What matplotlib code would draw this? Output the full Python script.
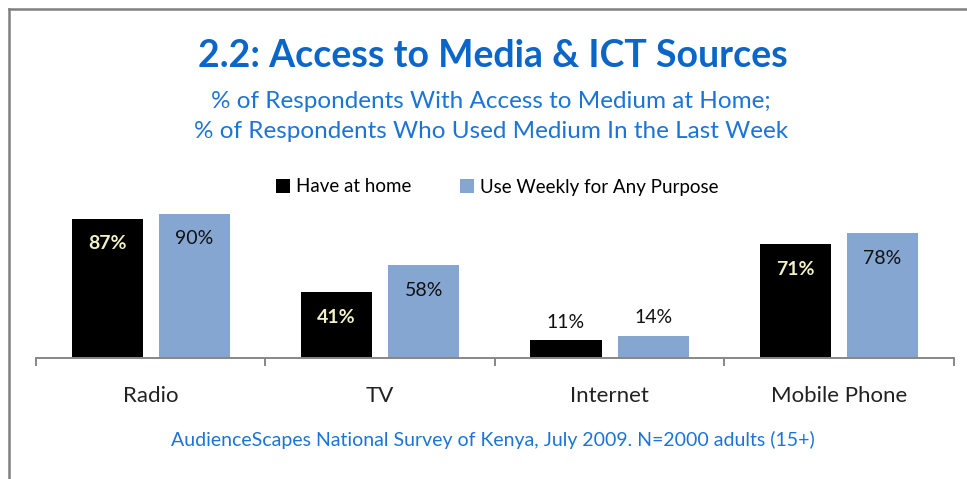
import matplotlib
matplotlib.use("Agg")
import matplotlib.pyplot as plt
from matplotlib.lines import Line2D
import numpy as np

categories = ["Radio", "TV", "Internet", "Mobile Phone"]
have_at_home = [87, 41, 11, 71]
use_weekly = [90, 58, 14, 78]
series_names = ["Have at home", "Use Weekly for Any Purpose"]

W, H = 967, 479
fig = plt.figure(figsize=(W / 100, H / 100), dpi=100)
plt.rcParams['font.family'] = ['Lato', 'DejaVu Sans']

# frame lines (top and left)
fig.add_artist(Line2D([8.5 / W, 1.0], [1 - 9 / H, 1 - 9 / H], color="#808080", lw=1.8, transform=fig.transFigure))
fig.add_artist(Line2D([9 / W, 9 / W], [0, 1 - 9 / H], color="#808080", lw=1.8, transform=fig.transFigure))

ax_left, ax_right = 36 / W, 953.7 / W
ax_bottom = (H - 358) / H
ax_top = (H - 198) / H
ax = fig.add_axes([ax_left, ax_bottom, ax_right - ax_left, ax_top - ax_bottom])

x = np.arange(len(categories))
bw = 0.31
off = 0.19
black = "#000000"
blue = "#86A6D2"
b1 = ax.bar(x - off, have_at_home, bw, color=black, label=series_names[0])
b2 = ax.bar(x + off, use_weekly, bw, color=blue, label=series_names[1])

ax.set_xlim(-0.5, len(categories) - 0.5)
ax.set_ylim(0, 100)
for s in ["top", "right", "left"]:
    ax.spines[s].set_visible(False)
ax.spines["bottom"].set_color("#878787")
ax.spines["bottom"].set_linewidth(1.4)
ax.set_yticks([])
ax.set_xticks(np.arange(len(categories) + 1) - 0.5)
ax.set_xticklabels([])
ax.tick_params(axis="x", which="major", length=6, width=1.4, color="#878787", direction="out")
ax.set_xticks(x, minor=True)
ax.set_xticklabels(categories, minor=True, fontsize=16, color="#222222")
ax.tick_params(axis="x", which="minor", length=0, pad=20)

for bars, vals, inner_color, weight in [(b1, have_at_home, "#F2F0C6", "bold"), (b2, use_weekly, "#111111", "normal")]:
    for rect, v in zip(bars, vals):
        cx = rect.get_x() + rect.get_width() / 2
        if v > 20:
            ax.annotate(f"{v}%", (cx, v), xytext=(0, -18), textcoords="offset points",
                        ha="center", va="center", fontsize=14, color=inner_color, fontweight=weight)
        else:
            ax.annotate(f"{v}%", (cx, v), xytext=(0, 13), textcoords="offset points",
                        ha="center", va="center", fontsize=14, color="#111111")

fig.text(493 / W, 1 - 56 / H, "2.2: Access to Media & ICT Sources", ha="center", va="center",
         fontsize=27, fontweight="bold", color="#0A66C8")
fig.text(491 / W, 1 - 101 / H, "% of Respondents With Access to Medium at Home;", ha="center", va="center",
         fontsize=17.5, color="#1C74D6")
fig.text(491 / W, 1 - 132 / H, "% of Respondents Who Used Medium In the Last Week", ha="center", va="center",
         fontsize=17.5, color="#1C74D6")
fig.text(493 / W, 1 - 440 / H, "AudienceScapes National Survey of Kenya, July 2009. N=2000 adults (15+)",
         ha="center", va="center", fontsize=14, color="#1C74D6")

leg = fig.legend(handles=[b1, b2], labels=series_names, loc="center", bbox_to_anchor=(497 / W, 1 - 187 / H),
                 ncol=2, frameon=False, fontsize=13.5, handlelength=0.75, handleheight=0.75,
                 handletextpad=0.3, columnspacing=2.6)

fig.savefig("out.png", dpi=100)
